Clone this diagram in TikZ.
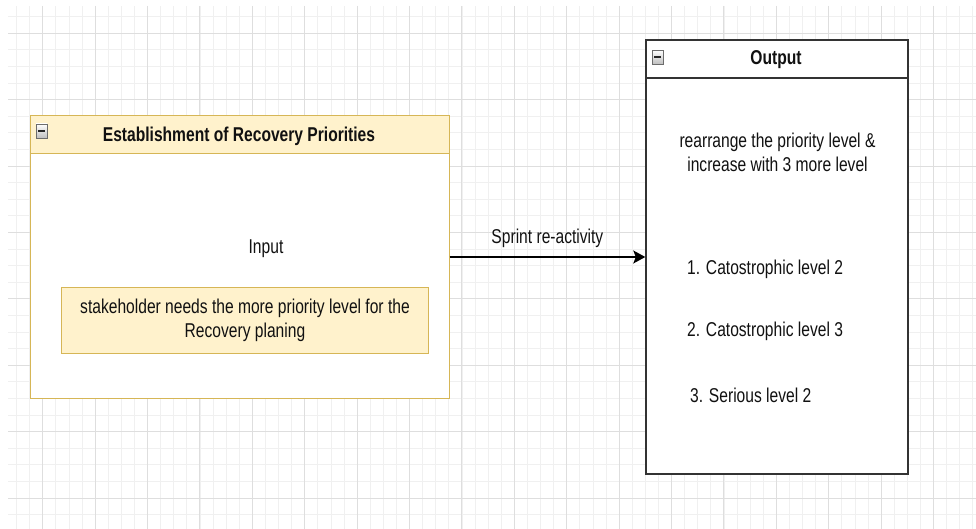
\documentclass[tikz,border=0pt]{standalone}
\usepackage{fontspec}
\setmainfont{Liberation Sans}[FakeStretch=0.78]
\usetikzlibrary{arrows.meta}
\definecolor{gridmajor}{HTML}{DEDEDE}
\definecolor{gridminor}{HTML}{F0F0F0}
\definecolor{paleyellow}{HTML}{FFF2CC}
\definecolor{goldline}{HTML}{D6B656}
\definecolor{darkline}{HTML}{333333}
\definecolor{inktext}{HTML}{111111}
\tikzset{
  plain/.style={font=\fontsize{20}{24}\selectfont, text=inktext, inner sep=0pt},
  heading/.style={plain, font=\fontsize{20}{24}\selectfont\bfseries},
  yellowbox/.style={draw=goldline, line width=1pt, fill=paleyellow, inner sep=0pt},
  framebox/.style={draw=darkline, line width=1.4pt, inner sep=0pt},
  foldicon/.style={draw=gray!85!black, line width=0.7pt, top color=white, bottom color=gray!50,
    minimum width=11pt, minimum height=14pt, inner sep=0pt},
}
\newcommand{\foldmark}[2]{%
  \node[foldicon] (#1) at #2 {};
  \draw[line width=1.6pt, black!85] ([xshift=-3.5pt]#1.center) -- ([xshift=3.5pt]#1.center);
}
\begin{document}
\begin{tikzpicture}[x=1pt, y=-1pt]
\useasboundingbox (0,0) rectangle (976,529);
% background grid
\begin{scope}
  \clip (8,6) rectangle (976,529);
  \foreach \i in {0,...,74} {
    \draw[gridminor, line width=0.8pt] ({16.5+13.1*\i},6) -- ({16.5+13.1*\i},529);
  }
  \foreach \j in {0,...,32} {
    \draw[gridminor, line width=0.8pt] (8,{16.6*\j}) -- (976,{16.6*\j});
  }
  \foreach \i in {0,...,18} {
    \draw[gridmajor, line width=0.9pt] ({42.7+52.4*\i},6) -- ({42.7+52.4*\i},529);
  }
  \foreach \j in {0,...,7} {
    \draw[gridmajor, line width=0.9pt] (8,{33.2+66.4*\j}) -- (976,{33.2+66.4*\j});
  }
\end{scope}

% left container: establishment of recovery priorities
\node[draw=goldline, line width=1pt, fill=white, minimum width=419pt, minimum height=282pt, inner sep=0pt]
  (lbox) at (239.5,257) {};
\node[yellowbox, minimum width=419pt, minimum height=38pt] (lhead) at (239.5,135) {};
\foldmark{lfold}{(41.5,131)}
\node[heading, anchor=base] (ltitle) at (239,142) {Establishment of Recovery Priorities};
\node[plain, anchor=base] (input) at (266,254) {Input};
\node[yellowbox, minimum width=367pt, minimum height=66pt] (need) at (244.5,320) {};
\node[plain, align=center, anchor=center] (needtext) at (245,320)
  {stakeholder needs the more priority level for the\\Recovery planing};

% right container: output
\node[framebox, fill=white, minimum width=262pt, minimum height=434pt] (rbox) at (777,257) {};
\draw[darkline, line width=1.4pt] (646,78) coordinate (rsepl) -- (908,78) coordinate (rsepr);
\foldmark{rfold}{(657.5,57)}
\node[heading, anchor=base] (rtitle) at (776,65) {Output};
\node[plain, align=center, anchor=center] (rnote) at (777.5,152)
  {rearrange the priority level \&\\increase with 3 more level};
\node[plain, anchor=base west] (item1) at (687,274) {1. Catostrophic level 2};
\node[plain, anchor=base west] (item2) at (687,336) {2. Catostrophic level 3};
\node[plain, anchor=base west] (item3) at (690,402) {3. Serious level 2};

% connector
\draw[black, line width=1.4pt, -{Stealth[length=12pt, width=13pt, inset=2.5pt]}] (lbox.east) -- (rbox.west)
  node[midway, above=9pt, plain] (conn) {Sprint re-activity};
\end{tikzpicture}
\end{document}
